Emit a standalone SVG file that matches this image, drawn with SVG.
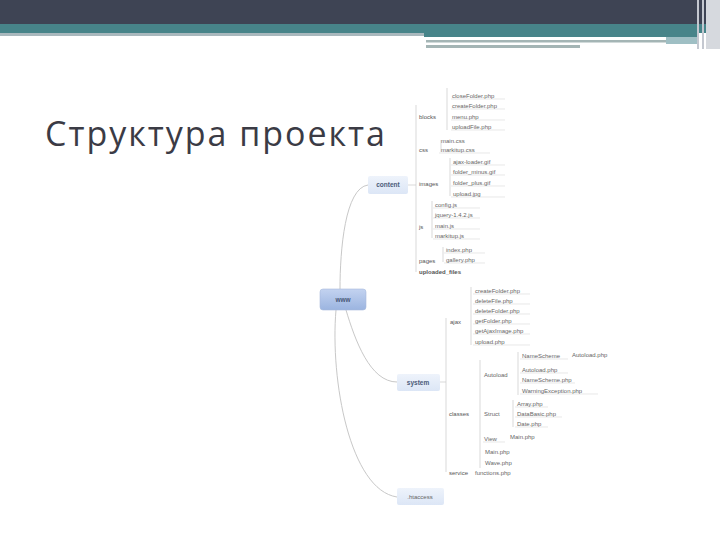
<svg xmlns="http://www.w3.org/2000/svg" width="720" height="540" viewBox="0 0 720 540">
<defs>
<style>
.t{font-family:"Liberation Sans",Arial,sans-serif;font-size:6px;fill:#666}
.lb{font-family:"Liberation Sans",Arial,sans-serif;font-size:6px;fill:#555}
.n{font-family:"Liberation Sans",Arial,sans-serif;font-size:6.5px;font-weight:bold;fill:#4a5a78}
.l{stroke:#cfcfcf;stroke-width:0.8;fill:none}
.u{stroke:#d8d8d8;stroke-width:0.6;fill:none}
.c{stroke:#c8c8c8;stroke-width:1;fill:none}
</style>
<linearGradient id="gw" x1="0" y1="0" x2="0" y2="1"><stop offset="0" stop-color="#c3d3f0"/><stop offset="1" stop-color="#9bb4e0"/></linearGradient>
<linearGradient id="gn" x1="0" y1="0" x2="0" y2="1"><stop offset="0" stop-color="#eef3fb"/><stop offset="1" stop-color="#dce6f6"/></linearGradient>
</defs>
<rect width="720" height="540" fill="#fff"/>
<g id="header">
<rect x="0" y="0" width="720" height="24" fill="#3e4454"/>
<rect x="0" y="24" width="720" height="9" fill="#478489"/>
<rect x="0" y="33" width="424" height="3" fill="#a9b8bd"/>
<rect x="424" y="33" width="273" height="4" fill="#478489"/>
<rect x="426" y="40" width="240" height="2.5" fill="#a4b5b5"/>
<rect x="426" y="45" width="154" height="3" fill="#a4b5b5"/>
<rect x="666" y="37" width="31" height="7" fill="#9fbfc4"/>
<rect x="697" y="0" width="2" height="49" fill="#c4c8d0"/>
<rect x="702" y="0" width="2" height="49" fill="#c4c8d0"/>
<rect x="706" y="0" width="14" height="49" fill="#d6d9de"/>
</g>
<text x="45" y="146" font-family="'Open Sans','Noto Sans',sans-serif" font-size="34" fill="#3b3b45" textLength="340">Структура проекта</text>
<g id="connectors">
<path class="c" d="M340 289 C340 250 345 188 368 185"/>
<path class="c" d="M346 310 C355 340 370 382 397 382"/>
<path class="c" d="M336 310 C330 380 350 490 397 497"/>
<path class="l" d="M408 185 H416 M416 105 V272"/>
<path class="l" d="M447 88 V130 M441 140 V152 M450 158 V196 M432 201 V238 M443 247 V262"/>
<path class="l" d="M440 382 H446 M446 318 V472 M471 287 V345 M480 360 V468 M518 352 V395 M513 400 V427"/>
<path class="u" d="M451 99 H505 M451 109 H505 M451 120 H505 M451 130 H505 M439 153 H490 M451 165 H505 M451 175 H505 M451 186 H505 M451 197 H505 M433 208 H480 M433 218 H480 M433 229 H480 M433 239 H480 M444 253 H485 M444 263 H485"/>
<path class="u" d="M473 294 H530 M473 304 H530 M473 314 H530 M473 324 H530 M473 334 H530 M473 345 H530 M520 359 H568 M520 373 H568 M520 383 H575 M520 394 H598 M515 407 H548 M515 417 H562 M515 427 H548 M483 442 H505"/>
</g>
<g id="www"><rect x="320" y="289" width="46" height="21" rx="3" fill="url(#gw)" stroke="#a8badb" stroke-width="0.6"/><text x="343" y="302" text-anchor="middle" class="n" font-size="7">www</text></g>
<g id="content"><rect x="368" y="176" width="40" height="18" rx="2" fill="url(#gn)"/><text x="388" y="187" text-anchor="middle" class="n">content</text></g>
<g id="system"><rect x="397" y="374" width="43" height="17" rx="2" fill="url(#gn)"/><text x="418" y="385" text-anchor="middle" class="n">system</text></g>
<g id="htaccess"><rect x="397" y="488" width="47" height="17" rx="2" fill="url(#gn)"/><text x="420" y="499" text-anchor="middle" class="t">.htaccess</text></g>
<g id="content-items">
<text x="419" y="119" class="lb">blocks</text>
<text x="452" y="98" class="t">closeFolder.php</text>
<text x="452" y="108" class="t">createFolder.php</text>
<text x="452" y="119" class="t">menu.php</text>
<text x="452" y="129" class="t">uploadFile.php</text>
<text x="419" y="152" class="lb">css</text>
<text x="441" y="143" class="t">main.css</text>
<text x="441" y="152" class="t">markitup.css</text>
<text x="419" y="186" class="lb">images</text>
<text x="453" y="164" class="t">ajax-loader.gif</text>
<text x="453" y="174" class="t">folder_minus.gif</text>
<text x="453" y="185" class="t">folder_plus.gif</text>
<text x="453" y="196" class="t">upload.jpg</text>
<text x="419" y="229" class="lb">js</text>
<text x="435" y="207" class="t">config.js</text>
<text x="435" y="217" class="t">jquery-1.4.2.js</text>
<text x="435" y="228" class="t">main.js</text>
<text x="435" y="238" class="t">markitup.js</text>
<text x="419" y="263" class="lb">pages</text>
<text x="446" y="252" class="t">index.php</text>
<text x="446" y="262" class="t">gallery.php</text>
<text x="419" y="274" class="lb" font-weight="bold">uploaded_files</text>
</g>
<g id="system-items">
<text x="450" y="324" class="lb">ajax</text>
<text x="475" y="293" class="t">createFolder.php</text>
<text x="475" y="303" class="t">deleteFile.php</text>
<text x="475" y="313" class="t">deleteFolder.php</text>
<text x="475" y="323" class="t">getFolder.php</text>
<text x="475" y="333" class="t">getAjaxImage.php</text>
<text x="475" y="344" class="t">upload.php</text>
<text x="449" y="416" class="lb">classes</text>
<text x="484" y="377" class="t">Autoload</text>
<text x="522" y="358" class="t">NameScheme</text>
<text x="572" y="357" class="t">Autoload.php</text>
<text x="522" y="372" class="t">Autoload.php</text>
<text x="522" y="382" class="t">NameScheme.php</text>
<text x="522" y="393" class="t">WarningException.php</text>
<text x="484" y="416" class="t">Struct</text>
<text x="517" y="406" class="t">Array.php</text>
<text x="517" y="416" class="t">DataBasic.php</text>
<text x="517" y="426" class="t">Date.php</text>
<text x="484" y="441" class="t">View</text>
<text x="510" y="439" class="t">Main.php</text>
<text x="485" y="454" class="t">Main.php</text>
<text x="485" y="465" class="t">Wave.php</text>
<text x="449" y="475" class="lb">service</text>
<text x="475" y="475" class="t">functions.php</text>
</g>
</svg>
